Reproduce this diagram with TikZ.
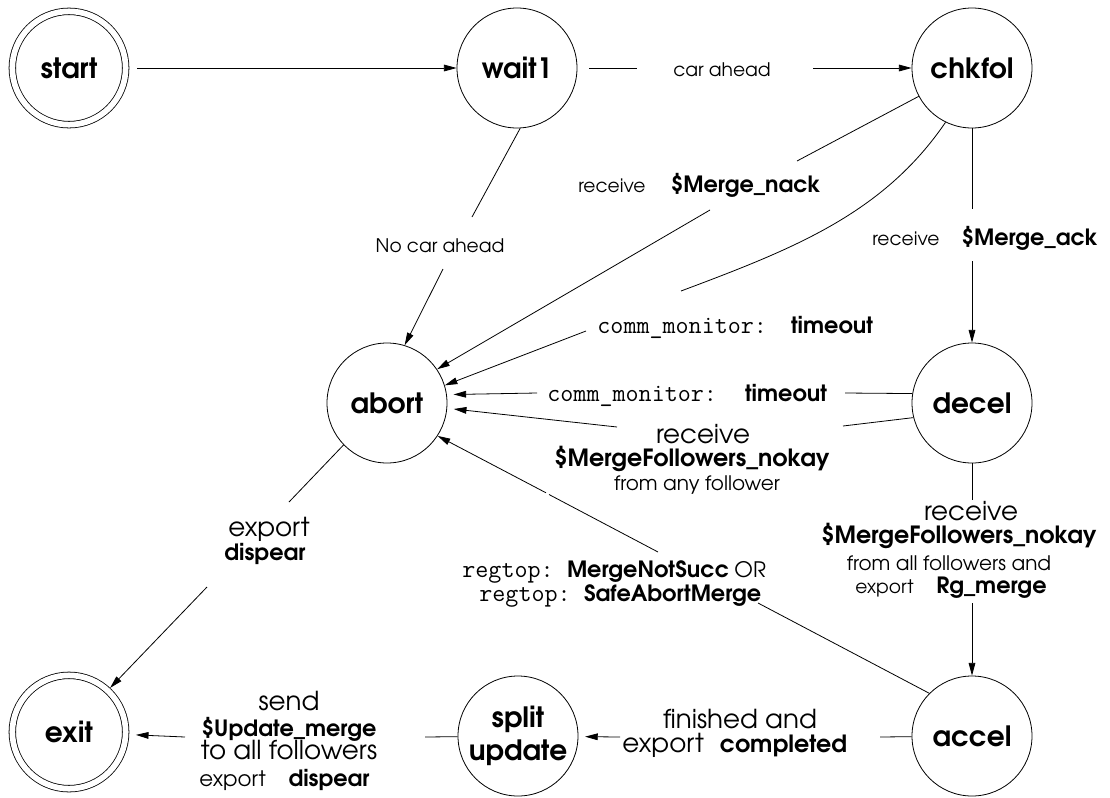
\documentclass[tikz,border=0pt]{standalone}
\usepackage{fontspec}
\setmainfont{TeX Gyre Adventor}
\newfontfamily\monofont{Latin Modern Mono}
\usetikzlibrary{arrows.meta}

% text sizes used in the state chart
\newcommand\szS{\fontsize{14}{16}\selectfont\rmfamily\mdseries}
\newcommand\szF{\fontsize{15}{17}\selectfont\rmfamily\mdseries}
\newcommand\szM{\fontsize{16}{18}\selectfont\rmfamily\mdseries}
\newcommand\szL{\fontsize{19.6}{22}\selectfont\rmfamily\mdseries}
\newcommand\szB{\fontsize{16.8}{19}\selectfont\rmfamily\bfseries}
\newcommand\szBB{\fontsize{17.8}{20}\selectfont\rmfamily\bfseries}
\newcommand\szT{\fontsize{19}{21}\selectfont\monofont\mdseries}

\begin{document}
\begin{tikzpicture}[x=0.75pt,y=-0.75pt,line width=0.6pt,
  state/.style={circle,draw,minimum size=90pt,inner sep=0pt,
    font=\fontsize{21}{25}\selectfont\bfseries},
  final/.style={state,double,double distance=4.3pt,minimum size=85pt,outer sep=2.7pt},
  lbl/.style={inner sep=0pt,anchor=base},
  lblw/.style={inner sep=0pt,anchor=base west},
  arr/.style={-{Triangle[length=9.5pt,width=5pt]}},
]
\useasboundingbox (0,0) rectangle (1110,797);

% states
\node[final] (start)  at (69,68)   {start};
\node[state] (wait1)  at (517,68)  {wait1};
\node[state] (chkfol) at (972,68)  {chkfol};
\node[state] (abort)  at (387,403) {abort};
\node[state] (decel)  at (972,403) {decel};
\node[final] (exit)   at (69,732)  {exit};
\node[state,align=center] (split) at (518,736) {split\\update};
\node[state] (accel)  at (972,736) {accel};

% transition labels
\node[lbl]  (carahead) at (722,76)  {\szS car ahead};
\node[lbl]  (nocar)    at (440,252) {\szS No car ahead};
\node[lblw] (nack)     at (578,192) {\szS receive\hspace{19pt}\szB\$Merge\_nack};
\node[lblw] (ack)      at (872,245) {\szS receive\hspace{16.5pt}\szB\$Merge\_ack};
\node[lblw] (tmoA)     at (597,333) {\szT comm\_monitor:\hspace{18pt}\szB timeout};
\node[lblw] (tmoB)     at (547,401) {\szT comm\_monitor:\hspace{21pt}\szB timeout};
\node[lbl]  (anyA)     at (703,443) {\szL receive};
\node[lbl]  (anyB)     at (692,466) {\szBB\$MergeFollowers\_nokay};
\node[lbl]  (anyC)     at (697,490) {\szF from any follower};
\node[lbl]  (allA)     at (971,520) {\szL receive};
\node[lbl]  (allB)     at (959,543) {\szBB\$MergeFollowers\_nokay};
\node[lbl]  (allC)     at (949,570) {\szF from all followers and};
\node[lblw] (allD)     at (855,593) {\szS export\hspace{17pt}\szB Rg\_merge};
\node[lblw] (regA)     at (462,577) {\szT regtop:\hspace{10pt}\szB MergeNotSucc\hspace{4pt}\szM OR};
\node[lblw] (regB)     at (479,601) {\szT regtop:\hspace{10pt}\szB SafeAbortMerge};
\node[lbl]  (expA)     at (269,536) {\szL export};
\node[lbl]  (expB)     at (265,560) {\szB dispear};
\node[lbl]  (sndA)     at (289,710) {\szL send};
\node[lbl]  (sndB)     at (289,736) {\szB\$Update\_merge};
\node[lbl]  (sndC)     at (289,759) {\szL to all followers};
\node[lblw] (sndD)     at (199,786) {\szM export\hspace{17pt}\szB dispear};
\node[lbl]  (finA)     at (740,728) {\szL finished and};
\node[lblw] (finB)     at (622,752) {\szL export\hspace{12pt}\szBB completed};

% break points where the connectors pass their labels
\coordinate (g1a) at (637,68);   \coordinate (g1b) at (813,68);
\coordinate (g2a) at (472,217);  \coordinate (g2b) at (443,269);
\coordinate (g3a) at (797,161);  \coordinate (g3b) at (710,210);
\coordinate (g4a) at (681,291);  \coordinate (g4b) at (586,331);
\coordinate (g5a) at (972,209);  \coordinate (g5b) at (972,261);
\coordinate (g6a) at (845,393);  \coordinate (g6b) at (537,393);
\coordinate (g7a) at (843,426);  \coordinate (g7b) at (617,427);
\coordinate (g8a) at (289,502);  \coordinate (g8b) at (207,587);
\coordinate (g9a) at (972,500);  \coordinate (g9b) at (972,603);
\coordinate (g10a) at (758,603); \coordinate (g10b) at (658,552);
\coordinate (g10c) at (549,494.5); \coordinate (g10d) at (546,492.8);
\coordinate (g11a) at (880,737); \coordinate (g11b) at (620,737);
\coordinate (g12a) at (425,737); \coordinate (g12b) at (185,737);

% transitions
\draw[arr,shorten <=6pt] (start) -- (wait1);
\draw[shorten <=9pt] (wait1) -- (g1a);
\draw[arr] (g1b) -- (chkfol);
\draw (wait1.-87) -- (g2a);
\draw[arr] (g2b) -- (abort.73);
\draw (chkfol.208) -- (g3a);
\draw[arr] (g3b) -- (abort.34);
\draw (chkfol.244) .. controls (883,214) and (793,249) .. (g4a);
\draw[arr] (g4b) -- (abort.17);
\draw (chkfol) -- (g5a);
\draw[arr] (g5b) -- (decel);
\draw (decel.171) -- (g6a);
\draw[arr,shorten >=5pt] (g6b) -- (abort.8);
\draw (decel.194) -- (g7a);
\draw[arr,shorten >=5pt] (g7b) -- (abort.-5);
\draw (abort.224) -- (g8a);
\draw[arr] (g8b) -- (exit.47);
\draw (decel) -- (g9a);
\draw[arr] (g9b) -- (accel);
\draw (accel.135) -- (g10a);
\draw (g10b) -- (g10c);
\draw[arr] (g10d) -- (abort.-33);
\draw (accel) -- (g11a);
\draw[arr,shorten >=5pt] (g11b) -- (split);
\draw (split) -- (g12a);
\draw[arr,shorten >=5pt] (g12b) -- (exit);
\end{tikzpicture}
\end{document}
